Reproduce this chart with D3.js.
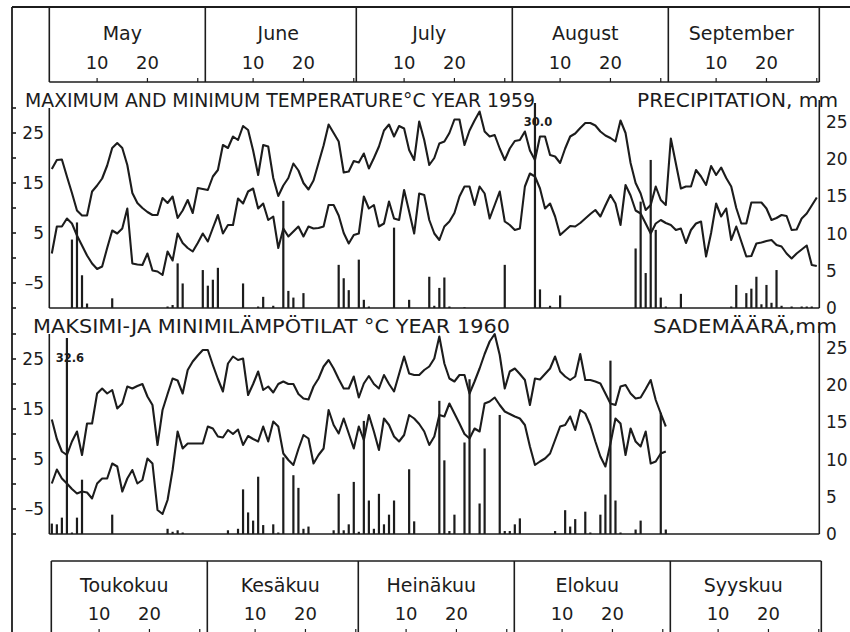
<!DOCTYPE html>
<html>
<head>
<meta charset="utf-8">
<script src="https://cdn.jsdelivr.net/npm/d3@7"></script>
<style>
  body { margin: 0; background: #fff; }
  svg { display: block; font-family: "DejaVu Sans", sans-serif; }
  text { fill: #1c1c1c; }
</style>
</head>
<body>
<svg id="chart" width="850" height="632"></svg>
<script>
// months May..September, day counts
var monthsEn = ["May", "June", "July", "August", "September"];
var monthsFi = ["Toukokuu", "Kesäkuu", "Heinäkuu", "Elokuu", "Syyskuu"];
var monthDays = [31, 30, 31, 31, 30];
var dayTicks = [10, 20];

// daily max / min temperature, 1 May = index 0
var max1959 = [17.8,19.6,19.7,16.3,13,9.5,8.5,8.5,13.3,14.5,
  15.9,18.5,22,23,22,18.6,13,11,10,9.2, 8.6,8.6,12,11,12.3,8,9.5,11.6,9,14,
  13.8,13.6,16.3,17.6,22.6,22,24.3,23.6,26.4,25.6, 21.5,16.6,22.6,22.3,16,12.4,14.5,16,18.9,17.5,
  15,13.7,15.5,19,22.5,26.7,25,23.3,17.1,17.3, 19.4,19.1,20.9,17.9,20,22.3,25.5,26.7,24.3,26.4,
  25.9,21.6,19.6,27.3,23.6,18.6,20,22.9,23.3,25, 27.7,27.7,22.6,25.5,27.5,29.3,25.3,24.3,24.6,21.9,
  19.6,21.9,23.4,23.6,25.3,21.5,19.6,24.3,24.3,20.6, 20.3,19,21.9,24.3,24.9,26,27,27,26.5,25.3,
  24.5,24,23.3,27.5,25,19,15,12.9,9.6,10.6, 14.3,11.6,10.6,23.9,18.9,13.9,14.3,14.3,17.6,16.3,
  14.6,18.4,16.6,18.1,16,14.3,10,6.9,6.9,11.1, 11.1,11.1,9.9,7.6,8,8.6,8.4,5.6,5.7,7.9,
  8.9,10.5,12.1];
var min1959 = [0.9,6.3,6.3,7.9,6.9,4.5,2.5,0.5,-1.1,-2.2,
  -1.7,2,5.5,4.9,5.9,9.9,-1.1,-1.3,-1.4,0.9, -2.5,-2.7,-3.4,1.3,-0.5,4.9,3,2,1.3,3,
  4.9,3.3,6,8.6,4.9,6.6,6.6,11.9,10.9,13.3, 13.9,9.9,10.9,7.6,8.3,2,5.9,4.3,5.3,6.3,
  4.3,6.3,5.9,6,6.3,10.6,10.6,8.5,5,2.9, 4.6,4.9,12.3,9.9,10.6,6.3,6.9,11.3,7.9,7.6,
  13.6,9.3,4.9,12.9,12.6,7.6,4.9,3.6,6.3,7.3, 9,12.3,14.3,14.3,10.6,14.3,12.9,7.9,10.6,13.3,
  7.3,6.6,5.6,5.9,14.3,16.9,16.3,13.9,9.9,10.9, 8.3,4.6,5.5,6.4,6.3,7,7.9,8.8,9.6,8.3,
  10.5,12.6,10.9,6.6,14.6,12.5,9.5,8.9,6.9,4.9, 6.9,7.6,7,6.6,5.6,5.9,3,5.6,6.9,7.3,
  0.3,5,10.9,8.3,9.9,3.6,6.3,3.3,0.3,0.4, 2.9,3.1,3.4,3.6,2.6,2.3,0.9,-0.1,0.9,1.7,
  2.5,-1.4,-1.6];
var max1960 = [12.9,9,6.5,5.8,8.5,10.5,5.8,12.1,12.1,18.1,
  19.1,18.1,18.8,15.1,16.1,19.5,19.1,19.6,20,17.5, 15.8,7.8,14.8,18,21.1,20.7,18.1,22.8,24.5,25.7,
  26.8,26.8,23.8,21,18.5,24.1,25.5,24.8,25.1,17.8, 20,22.5,18.8,19.5,18.3,20,20.5,20,20,18,
  17.1,16.9,19.5,21.1,23.5,24.8,23.1,21,19.1,19.1, 21.5,17.3,20.1,21.6,20,19.1,21.8,20,18.5,22,
  25.5,22.1,21.8,21.8,22.8,23.5,25.1,29.5,24.1,21.1, 20.5,21.8,21.8,18.1,20.5,23.1,26,28.5,30,25.8,
  19.1,22.5,23.1,22,20.8,15.8,21.1,20.9,22,23.1, 25.5,22.5,21.5,20.8,21.5,26,20.8,20.8,20.5,20.1,
  18.1,16.1,15.8,19.5,19.8,18.1,17.1,17.3,19,20.8, 16.8,14.1,11.5];
var min1960 = [0.1,2.9,1.1,0.1,-1,-1.9,-1.5,-1.7,-2.9,0.1,
  1.1,1.1,4.1,3.5,-1.5,1.1,2.8,0.1,0.8,5.1, 4.1,-5.2,-6,-3.2,2.8,10.5,7.1,8.1,8.1,8.1,
  8.1,11.5,11.1,9.5,9.3,10.8,10,10.9,7.8,9.6, 9,8.5,11.5,8.5,12.5,11.5,6.1,4.8,3.8,7,
  9.8,9.1,4.1,5.8,7.1,14.8,11.8,10.1,13.1,10.1, 7.1,11.5,8.8,13.8,10.5,6.8,13.1,11.8,9.5,8.5,
  9.8,13.8,13.1,12,10.5,7.8,9.5,13.8,13.5,16.1, 14.1,12.1,10,9.1,11.1,10.5,16.1,16.5,17.3,15.8,
  14.5,14,13.5,13.1,11.8,7.5,3.8,4.5,5.1,6.1, 8.8,11.5,11.8,13.5,10.8,14.8,14.1,11.8,8.5,5.5,
  3.5,8.1,13.1,12.1,5.8,11.1,8.5,7.5,10.5,4.1, 4.5,6.1,6.5];

// precipitation, [day index, mm]
var rain1959 = [[4,9.2],[5,11.5],[6,4.4],[7,0.6],[12,1.3],[23,0.2],[24,0.4],[25,6],[26,3.3],
  [30,5.1],[31,3],[32,3.8],[33,5.4],[38,3.3],[41,0.2],[42,1.5],[44,0.3],[46,14.4],[47,2.3],[48,1.4],
  [50,2],[57,5.8],[58,4],[59,2.4],[61,6.5],[62,1.1],[63,0.2],[68,10.8],[71,1.1],[75,4.2],[76,0.3],
  [77,2.7],[78,4.1],[79,0.2],[82,0.1],[90,5.8],[96,30.0],[97,2.5],[99,0.3],[101,1.7],[116,8],
  [117,14.3],[118,4.7],[119,19.9],[120,10.5],[121,1.4],[122,0.2],[125,1.9],[135,0.2],[136,3.1],
  [138,2],[139,2.6],[140,4.2],[141,0.5],[142,3.1],[143,0.7],[144,5.1],[145,0.3],[147,0.2],
  [149,0.2],[150,0.2],[151,0.2]];
var rain1960 = [[0,1.4],[1,1.3],[2,2.2],[3,32.6],[4,0.2],[5,2.2],[6,7.3],[12,2.6],[23,0.7],[24,0.3],
  [25,0.5],[26,0.2],[35,0.5],[37,0.7],[38,6],[39,2.9],[40,1.8],[41,7.7],[42,1.2],[44,1.3],[45,0.2],
  [46,10.3],[48,7.9],[49,6.2],[50,0.7],[51,1],[56,0.5],[57,5.4],[58,0.5],[59,1.3],[60,7],[61,0.3],
  [62,15.2],[63,4.5],[64,0.7],[65,5.4],[66,1.3],[67,2.6],[68,4.5],[71,8.7],[72,1.7],[77,17.9],
  [78,9.9],[79,0.4],[80,2.6],[82,12.3],[83,20.8],[85,4.1],[86,11.5],[89,16],[90,0.4],[91,0.4],
  [92,1.3],[93,2.1],[100,0.4],[102,3.2],[103,1],[104,2],[106,3],[107,0.2],[109,2.6],[110,5.3],
  [111,23.3],[112,4.5],[113,0.2],[116,0.6],[117,1.8],[121,16.3],[122,0.6]];

var tempTicks = [-10, -5, 0, 5, 10, 15, 20, 25, 30];
var tempLabels = [25, 15, 5, -5];
var rainLabels = [0, 5, 10, 15, 20, 25];

var ink = "#1c1c1c";
var svg = d3.select("#chart");

var x = d3.scaleLinear().domain([0, 153]).range([49.3, 819.3]);
var dayX = function(i) { return x(i + 0.5); };
var monthStart = [0];
monthDays.forEach(function(n, k) { monthStart.push(monthStart[k] + n); });

function hline(g, x1, x2, y, w) {
    g.append("line").attr("x1", x1).attr("x2", x2).attr("y1", y).attr("y2", y)
        .style("stroke", ink).style("stroke-width", w || 1.6);
}
function vline(g, xx, y1, y2, w) {
    g.append("line").attr("x1", xx).attr("x2", xx).attr("y1", y1).attr("y2", y2)
        .style("stroke", ink).style("stroke-width", w || 1.6);
}

// outer frame
hline(svg, 12, 850, 7, 1.8);
vline(svg, 12, 7, 632, 1.8);

// month strip (top english, bottom finnish)
function monthStrip(names, top, bottom, nameY, numY, tickBase, tickDir, dx) {
    var g = svg.append("g").attr("transform", "translate(" + dx + ",0)");
    if (top > 10) hline(g, x(0), x(153), top);
    hline(g, x(0), x(153), tickBase);
    monthStart.forEach(function(s) { vline(g, x(s), top, bottom); });
    names.forEach(function(name, k) {
        var s = monthStart[k];
        var mid = (dayX(s + dayTicks[0] - 1) + dayX(s + dayTicks[1] - 1)) / 2;
        g.append("text").attr("x", mid).attr("y", nameY)
            .attr("text-anchor", "middle").style("font-size", "19px").text(name);
        dayTicks.forEach(function(t) {
            g.append("text").attr("x", dayX(s + t - 1)).attr("y", numY)
                .attr("text-anchor", "middle").style("font-size", "18px").text(t);
        });
        [10, 20, 30].forEach(function(t) {
            var tx = dayX(s + t - 1);
            vline(g, tx, tickBase, tickBase + tickDir * 4, 1.2);
        });
    });
}
monthStrip(monthsEn, 7, 82, 40, 69, 82, -1, 0);
monthStrip(monthsFi, 561, 640, 592, 620, 633, -1, 2);

// one temperature / precipitation panel
function drawPanel(cfg) {
    var top = cfg.top, base = top + 200;
    var g = svg.append("g");
    var yT = d3.scaleLinear().domain([-10, 30]).range([base, top]);
    var yP = d3.scaleLinear().domain([0, 25]).range([base, base - 186]);

    vline(g, x(0), top, base);
    hline(g, x(0), x(153), base);
    vline(g, x(153), top - 8, base);

    // ticks on outer frame line
    tempTicks.forEach(function(v) { hline(g, 12, 16, yT(v), 1.6); });
    tempLabels.forEach(function(v) {
        g.append("text").attr("x", 44).attr("y", yT(v)).attr("dy", "0.35em")
            .attr("text-anchor", "end").style("font-size", "17px")
            .text(v < 0 ? "\u2013" + Math.abs(v) : v);
    });
    rainLabels.forEach(function(v) {
        g.append("text").attr("x", 826).attr("y", yP(v)).attr("dy", "0.35em")
            .style("font-size", "17px").text(v);
    });

    // titles
    g.append("text").attr("x", cfg.titleX).attr("y", top - 1)
        .attr("textLength", cfg.titleLen).attr("lengthAdjust", "spacingAndGlyphs")
        .style("font-size", "20px").text(cfg.title);
    g.append("text").attr("x", cfg.rightX).attr("y", top - 1)
        .attr("textLength", cfg.rightLen).attr("lengthAdjust", "spacingAndGlyphs")
        .style("font-size", "20px").text(cfg.rightTitle);

    // precipitation bars
    g.append("g").selectAll("rect")
        .data(cfg.rain)
        .enter().append("rect")
        .attr("x", function(d) { return dayX(d[0]) - 1.1; })
        .attr("width", 2.2)
        .attr("y", function(d) { return Math.max(yP(d[1]), top + cfg.clip); })
        .attr("height", function(d) { return base - Math.max(yP(d[1]), top + cfg.clip); })
        .style("fill", ink);

    g.append("g").selectAll("text")
        .data(cfg.rain.filter(function(d) { return yP(d[1]) < top + cfg.clip; }))
        .enter().append("text")
        .attr("x", function(d) { return dayX(d[0]) + 3; })
        .attr("y", top + cfg.labelDy)
        .attr("text-anchor", "middle")
        .style("font-size", "11.5px")
        .style("font-weight", "bold")
        .text(function(d) { return d[1].toFixed(1); });

    var line = d3.line()
        .x(function(d, i) { return dayX(i); })
        .y(function(d) { return yT(d); });

    [cfg.max, cfg.min].forEach(function(series) {
        g.append("path")
            .datum(series)
            .attr("d", line)
            .style("fill", "none")
            .style("stroke", ink)
            .style("stroke-width", 2.1)
            .style("stroke-linejoin", "round");
    });
}

drawPanel({
    top: 108, max: max1959, min: min1959, rain: rain1959, clip: -5, labelDy: 18,
    title: "MAXIMUM AND MINIMUM TEMPERATURE\u00b0C YEAR 1959", titleX: 25, titleLen: 510,
    rightTitle: "PRECIPITATION, mm", rightX: 637, rightLen: 201
});
drawPanel({
    top: 334, max: max1960, min: min1960, rain: rain1960, clip: 4, labelDy: 28,
    title: "MAKSIMI-JA MINIMIL\u00c4MP\u00d6TILAT \u00b0C YEAR 1960", titleX: 33, titleLen: 477,
    rightTitle: "SADEM\u00c4\u00c4R\u00c4,mm", rightX: 653, rightLen: 184
});
</script>
</body>
</html>
